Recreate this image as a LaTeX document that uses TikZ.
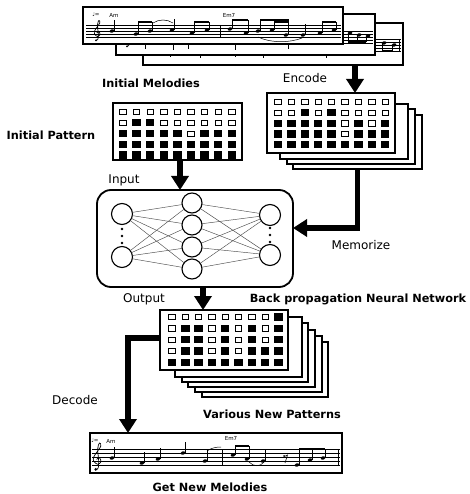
\documentclass[tikz,border=0pt]{standalone}
\usepackage{fontspec}
\setmainfont{DejaVu Sans}
\usetikzlibrary{arrows.meta}

\newcommand\nhead[2]{\fill[rotate around={20:(#1,#2)}] (#1,#2) ellipse (2.4 and 1.7);}
\newcommand\qu[2]{\nhead{#1}{#2}\draw[stemline] ({#1+2.1},#2) -- ({#1+2.1},{#2-11});}
\newcommand\qd[3]{\nhead{#1}{#2}\draw[stemline] ({#1-2.1},#2) -- ({#1-2.1},#3);}
\newcommand\pairu[5]{\nhead{#1}{#2}\nhead{#3}{#4}%
  \draw[stemline] ({#1+2.1},#2) -- ({#1+2.1},#5);%
  \draw[stemline] ({#3+2.1},#4) -- ({#3+2.1},#5);%
  \draw[beamline] ({#1+2.1},#5) -- ({#3+2.1},#5);}
\newcommand\paird[5]{\nhead{#1}{#2}\nhead{#3}{#4}%
  \draw[stemline] ({#1-2.1},#2) -- ({#1-2.1},#5);%
  \draw[stemline] ({#3-2.1},#4) -- ({#3-2.1},#5);%
  \draw[beamline] ({#1-2.1},#5) -- ({#3-2.1},#5);}
\newcommand\tripu[7]{\nhead{#1}{#2}\nhead{#3}{#4}\nhead{#5}{#6}%
  \draw[stemline] ({#1+2.1},#2) -- ({#1+2.1},#7);%
  \draw[stemline] ({#3+2.1},#4) -- ({#3+2.1},#7);%
  \draw[stemline] ({#5+2.1},#6) -- ({#5+2.1},#7);%
  \draw[beamline] ({#1+2.1},#7) -- ({#5+2.1},#7);}
\newcommand\tripd[7]{\nhead{#1}{#2}\nhead{#3}{#4}\nhead{#5}{#6}%
  \draw[stemline] ({#1-2.1},#2) -- ({#1-2.1},#7);%
  \draw[stemline] ({#3-2.1},#4) -- ({#3-2.1},#7);%
  \draw[stemline] ({#5-2.1},#6) -- ({#5-2.1},#7);%
  \draw[beamline] ({#1-2.1},#7) -- ({#5-2.1},#7);}
\newcommand\staff[4]{\foreach \k in {0,...,4}{\draw[staffline] (#1,{#3+\k*#4}) -- (#2,{#3+\k*#4});}}
\newcommand\clef[3]{\begin{scope}[shift={(#1,#2)},scale=#3]
  \draw[clefline] plot[smooth,tension=0.6] coordinates {(-0.3,15.3) (1,14) (1.2,8) (0.5,0) (1.8,-4.5) (2.8,-2) (-2.2,5.5) (-2.5,9) (0.5,11.5) (3,9.5) (1.8,6.5) (-0.3,7.8)};
  \fill (-0.9,15.3) circle (1.1);
  \end{scope}}
\newcommand\patgrid[5]{%
  \foreach \rw [count=\ri from 0] in {#5} {%
    \foreach \v [count=\ci from 0] in \rw {%
      \ifnum\v=1
        \fill ({#1+\ci*#3},{#2+\ri*#4}) ++(-4.2,-3.7) rectangle ++(8.4,7.4);
      \else
        \draw[line width=0.8pt] ({#1+\ci*#3},{#2+\ri*#4}) ++(-3.2,-2.6) rectangle ++(6.4,5.2);
      \fi
    }%
  }}

\begin{document}
\begin{tikzpicture}[x=1pt,y=-1pt,
  box/.style={draw, line width=2pt, fill=white, inner sep=0pt, outer sep=0pt},
  nnbox/.style={draw, line width=1.8pt, fill=white, rounded corners=14pt, inner sep=0pt, outer sep=0pt},
  neuron/.style={circle, draw, line width=1.1pt, fill=white, inner sep=0pt, outer sep=0pt, minimum size=#1},
  neuron/.default=21pt,
  edge/.style={line width=0.45pt, black!70},
  bigarrow/.style={line width=5.5pt, line join=miter, -{Triangle[length=14pt,width=17pt]}},
  stemline/.style={line width=0.6pt},
  beamline/.style={line width=1.7pt},
  staffline/.style={line width=0.5pt},
  clefline/.style={line width=0.7pt},
  tieline/.style={line width=0.5pt},
  blabel/.style={font=\fontsize{11.3}{13}\selectfont\bfseries, inner sep=0pt},
  rlabel/.style={font=\fontsize{12}{14}\selectfont, inner sep=0pt},
  tlabel/.style={font=\fontsize{5.5}{6}\selectfont, inner sep=0pt}]

\fill[white] (0,0) rectangle (469,494);
\useasboundingbox (0,0) rectangle (469,494);

% ---------- initial melodies stack ----------
\node[box, minimum width=260pt, minimum height=42pt] (m3) at (273,44) {};
\staff{145}{401}{39}{3}
\clef{155}{39}{1}
\qd{172}{45}{57}\qd{202}{46}{58}\qd{237}{44}{57}\qd{265}{45}{58}\qd{328}{46}{58}
\paird{384}{43}{394}{45}{51}
\draw[stemline] (399,39) -- (399,51);

\node[box, minimum width=259pt, minimum height=41pt] (m2) at (245.5,34.5) {};
\staff{118}{373}{31}{3}
\clef{128}{31}{1}
\qd{147}{37}{49}\qd{175}{38}{50}\qd{190}{36}{49}\qd{237}{38}{50}\qd{290}{37}{49}
\tripd{350}{33}{359}{35}{368}{36}{42}

\node[box, minimum width=260pt, minimum height=37pt] (m1) at (213,25.5) {};
\staff{86}{341}{25}{3}
\clef{97}{25}{1}
\node[tlabel] (tempo1) at (96,15) {♩=};
\node[tlabel] (am1) at (114,15) {Am};
\node[tlabel] (em1) at (229,15) {Em7};
\qu{112}{31}
\pairu{136}{34}{150}{31}{22}
\draw[tieline] (153,23) .. controls (159,19) and (167,19) .. (173,23);
\qu{172}{30}
\pairu{192}{33}{207}{30}{22}
\draw[stemline] (220,25) -- (220,37);
\pairu{230}{29}{246}{33}{20}
\tripu{258}{31}{272}{30}{286}{35}{20}
\fill (274,19) rectangle (288.5,23);
\draw[tieline] (258,37) .. controls (270,43) and (290,43) .. (302,38);
\qu{303}{35}
\pairu{320}{33}{334}{30}{22}

\node[blabel] (tIM) at (151,83) {Initial Melodies};
\node[rlabel] (tEnc) at (305,78) {Encode};

% ---------- encoded patterns stack ----------
\node[box, minimum width=129pt, minimum height=54pt] (enc3) at (357.5,142) {};
\node[box, minimum width=128pt, minimum height=55pt] (enc2) at (351,136.5) {};
\node[box, minimum width=128pt, minimum height=55pt] (enc1) at (344,131.5) {};
\node[box, minimum width=128pt, minimum height=60pt] (enc) at (331,123) {};
\patgrid{278}{102}{13.4}{10.7}{{0,0,0,0,0,0,0,0,0},{0,0,1,0,1,0,0,0,0},{1,1,1,1,1,0,1,0,1},{1,1,1,1,1,0,1,1,1},{1,1,1,1,1,1,1,1,1}}

% ---------- initial pattern ----------
\node[blabel] (tIP) at (51,135) {Initial Pattern};
\node[box, minimum width=129pt, minimum height=57pt] (ip) at (177.5,131.5) {};
\patgrid{123}{112}{13.6}{10.8}{{0,0,0,0,0,0,0,0,0},{0,1,1,0,0,0,0,0,0},{1,1,1,1,1,0,1,1,1},{1,1,1,1,1,1,1,1,1},{1,1,1,1,1,1,1,1,1}}

% ---------- neural network ----------
\node[rlabel] (tIn) at (124,180) {Input};
\node[nnbox, minimum width=196pt, minimum height=97pt] (nn) at (195,238.5) {};
\node[neuron] (l1) at (122,214) {};
\node[neuron] (l2) at (122,257) {};
\node[neuron=20pt] (h1) at (192,203) {};
\node[neuron=20pt] (h2) at (192,225) {};
\node[neuron=20pt] (h3) at (192,247) {};
\node[neuron=20pt] (h4) at (192,269) {};
\node[neuron] (r1) at (270,215) {};
\node[neuron] (r2) at (270,255) {};
\foreach \a in {l1,l2}{\foreach \b in {h1,h2,h3,h4}{\draw[edge] (\a) -- (\b);}}
\foreach \a in {h1,h2,h3,h4}{\foreach \b in {r1,r2}{\draw[edge] (\a) -- (\b);}}
\foreach \yy in {229,236,243}{\fill (122,\yy) circle (1.4);}
\foreach \yy in {228,235,242}{\fill (270,\yy) circle (1.4);}
\node[rlabel] (tMem) at (361,245) {Memorize};
\node[rlabel] (tOut) at (144,299) {Output};
\node[blabel] (tBP) at (358,299) {Back propagation Neural Network};

% ---------- new patterns stack ----------
\node[box, minimum width=126pt, minimum height=55pt] (np5) at (265,369.5) {};
\node[box, minimum width=127pt, minimum height=56pt] (np4) at (258.5,363.5) {};
\node[box, minimum width=127pt, minimum height=57pt] (np3) at (251.5,358.5) {};
\node[box, minimum width=126pt, minimum height=59pt] (np2) at (245,352.5) {};
\node[box, minimum width=127pt, minimum height=60pt] (np1) at (238.5,347) {};
\node[box, minimum width=128pt, minimum height=60pt] (new) at (224,340) {};
\patgrid{172}{317}{13.3}{11.3}{{0,0,0,0,0,0,0,0,1},{0,1,1,0,1,0,1,0,1},{0,1,1,0,1,0,1,0,1},{0,1,1,0,1,0,1,1,1},{1,1,1,1,1,1,1,1,1}}
\node[blabel] (tVNP) at (272,414) {Various New Patterns};
\node[rlabel] (tDec) at (75,400) {Decode};

% ---------- new melody ----------
\node[box, minimum width=252pt, minimum height=40pt] (bot) at (216,453) {};
\staff{92}{340}{449}{4}
\clef{97}{449}{1.33}
\node[tlabel] (tempo2) at (95,441) {♩=};
\node[tlabel] (am2) at (111,441) {Am};
\node[tlabel] (em2) at (231,438) {Em7};
\qu{112}{458}\qu{142}{463}\qu{158}{459}\qu{183}{453}\qu{205}{461}
\draw[tieline] (207,451) .. controls (211,448) and (216,447) .. (221,447);
\draw[stemline] (222,449) -- (222,465);
\pairu{233}{455}{247}{459}{446}
\draw[tieline] (249,462) .. controls (254,467) and (260,467) .. (264,462);
\qu{263}{461}
\fill (284,456) circle (1);
\draw[stemline] (284.5,456.5) -- (287.5,455) -- (285,463);
\tripu{297}{465}{310}{460}{323}{458}{449}
\draw[stemline] (338,449) -- (338,465);
\node[blabel] (tGNM) at (210,487) {Get New Melodies};

% ---------- arrows ----------
\coordinate (encx) at (355,0);
\draw[bigarrow] (m3.south -| encx) -- (enc.north -| encx);
\draw[bigarrow] ([xshift=2.5pt]ip.south) -- ([xshift=2.5pt]ip.south |- nn.north);
\draw[bigarrow] (enc3.south) |- ([yshift=10.5pt]nn.east);
\draw[bigarrow] ([xshift=8pt]nn.south) -- ([xshift=8pt]nn.south |- new.north);
\coordinate (decx) at (128,0);
\draw[bigarrow] ([yshift=2pt]new.west) -| (decx |- bot.north);
\end{tikzpicture}
\end{document}
